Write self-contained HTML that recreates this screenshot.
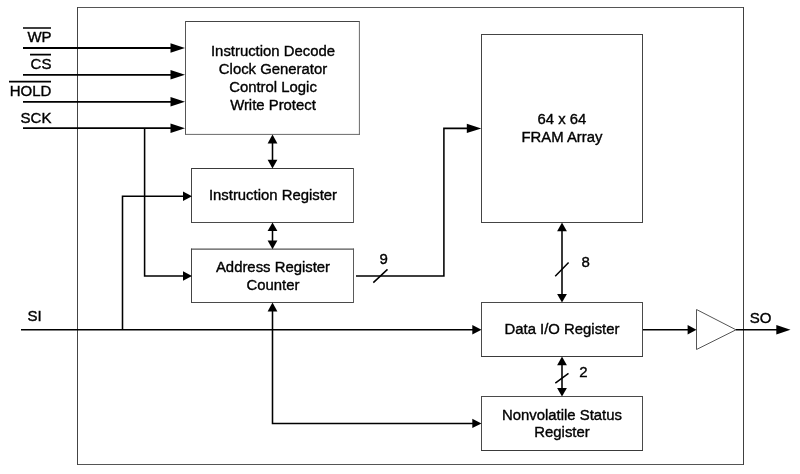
<!DOCTYPE html>
<html><head><meta charset="utf-8">
<style>
html,body{margin:0;padding:0;background:#fff;width:800px;height:474px;overflow:hidden}
svg{display:block}
text{font-family:"Liberation Sans",sans-serif;font-size:15px;fill:#000;stroke:#000;stroke-width:0.38px}
.t{opacity:0.999;will-change:transform}
.b{font-size:14.88px}
</style></head>
<body>
<svg width="800" height="474" viewBox="0 0 800 474">
<rect x="0" y="0" width="800" height="474" fill="#fff"/>
<!-- outer chip box -->
<g fill="none" stroke-width="1" stroke-linecap="square">
<path d="M77.5 7.5H743.5" stroke="#555"/>
<path d="M77.5 464.5H743.5" stroke="#555"/>
<path d="M77.5 7.5V464.5" stroke="#444"/>
<path d="M743.5 7.5V464.5" stroke="#404040"/>
<!-- box1 -->
<path d="M185.5 21.5H359.4" stroke="#444"/>
<path d="M185.5 21.5V134.4" stroke="#555"/>
<path d="M359.4 21.5V134.4" stroke="#6a6a6a"/>
<path d="M185.5 134.4H359.4" stroke="#6a6a6a"/>
<!-- IR -->
<path d="M191.5 168.5H353.5" stroke="#3a3a3a"/>
<path d="M191.5 222.5H353.5" stroke="#4a4a4a"/>
<path d="M191.5 168.5V222.5" stroke="#444"/>
<path d="M353.5 168.5V222.5" stroke="#5a5a5a"/>
<!-- AR -->
<path d="M191.5 249.1H353.5" stroke="#555" stroke-width="1.1"/>
<path d="M191.5 302.5H353.5" stroke="#4a4a4a"/>
<path d="M191.5 249.1V302.5" stroke="#444"/>
<path d="M353.5 249.1V302.5" stroke="#5a5a5a"/>
<!-- FRAM -->
<path d="M481.5 34.5H642.5M481.5 222.5H642.5M481.5 34.5V222.5M642.5 34.5V222.5" stroke="#444"/>
<!-- DIO -->
<path d="M481.5 302.5H642.5M481.5 302.5V356.5M642.5 302.5V356.5" stroke="#4a4a4a"/>
<path d="M481.5 356.5H642.5" stroke="#3a3a3a"/>
<!-- NVS -->
<path d="M481.5 396.5H642.5M481.5 396.5V450.5M642.5 396.5V450.5" stroke="#4a4a4a"/>
<path d="M481.5 450.5H642.5" stroke="#3a3a3a"/>
</g>
<polygon points="696.5,309.5 736,329.8 696.5,349.5" fill="none" stroke="#555" stroke-width="1"/>
<!-- wires -->
<g fill="none" stroke="#000" stroke-width="1.55">
<path d="M23 48H172M23 74.8H172M23 101.8H172M23 128.2H172" stroke-width="1.8"/>
<path d="M144.6 128.2V276H184"/>
<path d="M21 329.8H474"/>
<path d="M122.5 329.8V196.2H184"/>
<path d="M272.5 143V160"/>
<path d="M272.5 231V241"/>
<path d="M272.5 311V423.4H474"/>
<path d="M356 276H443.9V128.4H468"/>
<path d="M562 231V295"/>
<path d="M562 365V389"/>
<path d="M643 329.8H689"/>
<path d="M736 329.8H778"/>
</g>
<g fill="none" stroke="#000" stroke-width="1.5">
<path d="M373.3 282.6L387.5 269.4M555.2 276.2L568.6 262.5M555.3 383.2L568.5 373.3"/>
<path d="M23 28H51M30 54.7H51M9 81.6H51" stroke-width="1.7"/>
</g>
<!-- arrowheads -->
<g fill="#000" stroke="none">
<path d="M170.5 43.3L185 48L170.5 52.7Z"/>
<path d="M170.5 70.1L185 74.8L170.5 79.5Z"/>
<path d="M170.5 97.1L185 101.8L170.5 106.5Z"/>
<path d="M170.5 123.5L185 128.2L170.5 132.9Z"/>
<path d="M466.8 123.7L481.3 128.4L466.8 133.1Z"/>
<path d="M776.3 325.1L790.5 329.8L776.3 334.5Z"/>
<path d="M183 191.5L192 196.2L183 200.9Z"/>
<path d="M183 271.3L192 276L183 280.7Z"/>
<path d="M472.3 325.1L481.5 329.8L472.3 334.5Z"/>
<path d="M472.3 418.7L481.5 423.4L472.3 428.1Z"/>
<path d="M687.6 325.1L696.5 329.8L687.6 334.5Z"/>
<path d="M267.6 143.5L272.5 134.6L277.4 143.5Z"/>
<path d="M267.6 159.8L272.5 168.6L277.4 159.8Z"/>
<path d="M267.6 231L272.5 222.4L277.4 231Z"/>
<path d="M267.6 240.5L272.5 249.3L277.4 240.5Z"/>
<path d="M267.6 311.5L272.5 302.5L277.4 311.5Z"/>
<path d="M557.1 231.3L562 222.5L566.9 231.3Z"/>
<path d="M557.1 294L562 302.6L566.9 294Z"/>
<path d="M557.1 365.2L562 356.5L566.9 365.2Z"/>
<path d="M557.1 388L562 396.4L566.9 388Z"/>
</g>
<!-- labels -->
<g class="t">
<text x="273" y="55.8" text-anchor="middle" class="b">Instruction Decode</text>
<text x="273" y="73.8" text-anchor="middle" class="b">Clock Generator</text>
<text x="273" y="91.9" text-anchor="middle" class="b">Control Logic</text>
<text x="273" y="109.6" text-anchor="middle" class="b">Write Protect</text>
<text x="273" y="199.5" text-anchor="middle" class="b">Instruction Register</text>
<text x="273" y="271.6" text-anchor="middle" class="b">Address Register</text>
<text x="273" y="289.6" text-anchor="middle" class="b">Counter</text>
<text x="562" y="123.8" text-anchor="middle" class="b">64 x 64</text>
<text x="562" y="141.5" text-anchor="middle" class="b">FRAM Array</text>
<text x="562" y="334" text-anchor="middle" class="b">Data I/O Register</text>
<text x="562" y="419.7" text-anchor="middle" class="b">Nonvolatile Status</text>
<text x="562" y="437.1" text-anchor="middle" class="b">Register</text>
<text x="51.6" y="42.1" text-anchor="end">WP</text>
<text x="51.4" y="69" text-anchor="end">CS</text>
<text x="51.4" y="95.6" text-anchor="end">HOLD</text>
<text x="51.4" y="122.6" text-anchor="end">SCK</text>
<text x="27.5" y="321">SI</text>
<text x="749.8" y="323.3">SO</text>
<text x="379.5" y="263.7">9</text>
<text x="581.5" y="267.3">8</text>
<text x="579.3" y="377.4">2</text>
</g>
</svg>
</body></html>
